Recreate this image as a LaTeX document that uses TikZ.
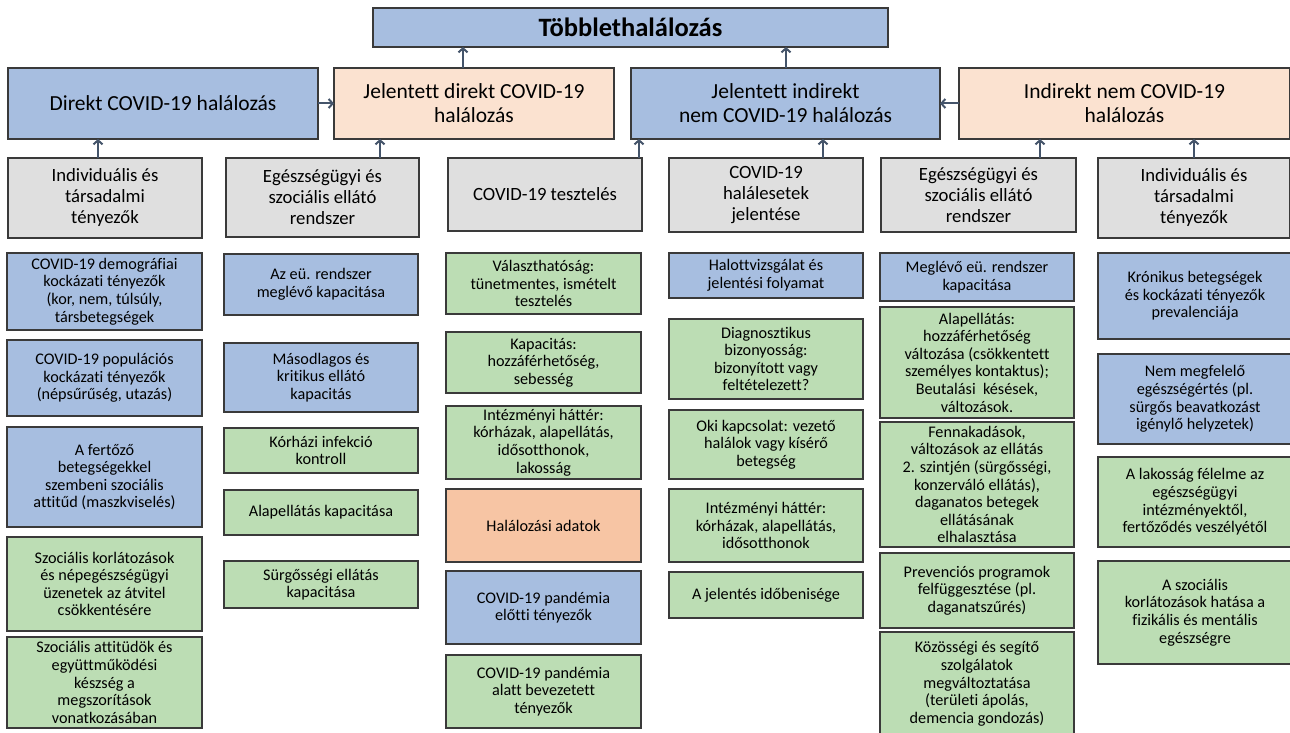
\documentclass[tikz,border=0pt]{standalone}
\usepackage{fontspec}
\setmainfont{Carlito}[Ligatures=NoCommon]
\usetikzlibrary{arrows.meta}
\definecolor{bluef}{HTML}{A7BEE0}
\definecolor{peachf}{HTML}{FBE2D0}
\definecolor{grayf}{HTML}{DFDFDF}
\definecolor{greenf}{HTML}{BCDDB4}
\definecolor{orangef}{HTML}{F7C5A4}
\definecolor{bordc}{HTML}{3A3A3A}
\definecolor{arrc}{HTML}{44546A}
\tikzset{
  box/.style={draw=bordc, line width=1.2pt, inner sep=0pt, outer sep=0pt, align=center, text=black, font=\fontsize{16.2}{17.6}\selectfont},
  bluebox/.style={box, fill=bluef},
  greenbox/.style={box, fill=greenf},
  orangebox/.style={box, fill=orangef},
  graybox/.style={box, fill=grayf, font=\fontsize{18.7}{21}\selectfont},
  headblue/.style={box, fill=bluef, font=\fontsize{21.5}{24}\selectfont},
  headpeach/.style={box, fill=peachf, font=\fontsize{21.5}{24}\selectfont},
  titlebox/.style={box, fill=bluef, font=\bfseries\fontsize{26.5}{30}\selectfont},
  arr/.style={draw=arrc, line width=2pt, -{Straight Barb[length=4pt,width=9pt]}}
}
\newcommand\bx[7]{\node[#6, minimum width={#4-#2}, minimum height={#5-#3}] (#1) at ({(#2+#4)/2},{(#3+#5)/2}) {#7};}
\begin{document}
\begin{tikzpicture}[x=1pt,y=-1pt]
\useasboundingbox (0,0) rectangle (1290,733);
% title
\bx{T}{373}{8}{888}{47}{titlebox}{Többlethalálozás}
% headers
\bx{H1}{8}{68}{318}{139}{headblue}{Direkt COVID-19 halálozás}
\bx{H2}{334}{68}{614}{139}{headpeach}{Jelentett direkt COVID-19\\halálozás}
\bx{H3}{631}{68}{940}{139}{headblue}{Jelentett indirekt\\nem COVID-19 halálozás}
\bx{H4}{959}{68}{1290}{139}{headpeach}{Indirekt nem COVID-19\\halálozás}
% gray row
\bx{G1}{8}{158}{202}{238}{graybox}{Individuális és\\társadalmi\\tényezők}
\bx{G2}{226}{158}{419}{237}{graybox}{Egészségügyi és\\szociális ellátó\\rendszer}
\bx{G3}{448}{158}{642}{231}{graybox}{COVID-19 tesztelés}
\bx{G4}{669}{158}{863}{232}{graybox}{COVID-19\\halálesetek\\jelentése}
\bx{G5}{881}{158}{1076}{232}{graybox}{Egészségügyi és\\szociális ellátó\\rendszer}
\bx{G6}{1098}{158}{1290}{238}{graybox}{Individuális és\\társadalmi\\tényezők}
% column 1
\bx{A1}{7}{253}{202}{330}{bluebox}{COVID-19 demográfiai\\kockázati tényezők\\(kor, nem, túlsúly,\\társbetegségek}
\bx{A2}{7}{340}{202}{416}{bluebox}{COVID-19 populációs\\kockázati tényezők\\(népsűrűség, utazás)}
\bx{A3}{7}{427}{202}{527}{bluebox}{A fertőző\\betegségekkel\\szembeni szociális\\attitűd (maszkviselés)}
\bx{A4}{7}{537}{202}{631}{greenbox}{Szociális korlátozások\\és népegészségügyi\\üzenetek az átvitel\\csökkentésére}
\bx{A5}{7}{637}{202}{728}{greenbox}{Szociális attitüdök és\\együttműködési\\készség a\\megszorítások\\vonatkozásában}
% column 2
\bx{B1}{224}{254}{418}{315}{bluebox}{Az eü. rendszer\\meglévő kapacitása}
\bx{B2}{224}{343}{418}{412}{bluebox}{Másodlagos és\\kritikus ellátó\\kapacitás}
\bx{B3}{224}{428}{418}{473}{greenbox}{Kórházi infekció\\kontroll}
\bx{B4}{224}{490}{418}{535}{greenbox}{Alapellátás kapacitása}
\bx{B5}{224}{561}{418}{608}{greenbox}{Sürgősségi ellátás\\kapacitása}
% column 3
\bx{C1}{446}{253}{641}{314}{greenbox}{Választhatóság:\\tünetmentes, ismételt\\tesztelés}
\bx{C2}{446}{332}{641}{393}{greenbox}{Kapacitás:\\hozzáférhetőség,\\sebesség}
\bx{C3}{446}{406}{641}{479}{greenbox}{Intézményi háttér:\\kórházak, alapellátás,\\idősotthonok,\\lakosság}
\bx{C4}{446}{489}{641}{562}{orangebox}{Halálozási adatok}
\bx{C5}{446}{571}{641}{644}{bluebox}{COVID-19 pandémia\\előtti tényezők}
\bx{C6}{446}{655}{641}{728}{greenbox}{COVID-19 pandémia\\alatt bevezetett\\tényezők}
% column 4
\bx{D1}{669}{253}{863}{298}{bluebox}{Halottvizsgálat és\\jelentési folyamat}
\bx{D2}{669}{319}{863}{399}{greenbox}{Diagnosztikus\\bizonyosság:\\bizonyított vagy\\feltételezett?}
\bx{D3}{669}{410}{863}{479}{greenbox}{Oki kapcsolat: vezető\\halálok vagy kísérő\\betegség}
\bx{D4}{669}{489}{863}{562}{greenbox}{Intézményi háttér:\\kórházak, alapellátás,\\idősotthonok}
\bx{D5}{669}{572}{863}{618}{greenbox}{A jelentés időbenisége}
% column 5
\bx{E1}{880}{253}{1074}{301}{bluebox}{Meglévő eü. rendszer\\kapacitása}
\bx{E2}{880}{307}{1074}{418}{greenbox}{Alapellátás:\\hozzáférhetőség\\változása (csökkentett\\személyes kontaktus);\\Beutalási\ \ késések,\\változások.}
\bx{E3}{880}{422}{1074}{547}{greenbox}{Fennakadások,\\változások az ellátás\\2. szintjén (sürgősségi,\\konzerváló ellátás),\\daganatos betegek\\ellátásának\\elhalasztása}
\bx{E4}{880}{553}{1074}{628}{greenbox}{Prevenciós programok\\felfüggesztése (pl.\\daganatszűrés)}
\bx{E5}{880}{632}{1074}{736}{greenbox}{Közösségi és segítő\\szolgálatok\\megváltoztatása\\(területi ápolás,\\demencia gondozás)}
% column 6
\bx{F1}{1098}{253}{1292}{339}{bluebox}{Krónikus betegségek\\és kockázati tényezők\\prevalenciája}
\bx{F2}{1098}{354}{1292}{444}{bluebox}{Nem megfelelő\\egészségértés (pl.\\sürgős beavatkozást\\igénylő helyzetek)}
\bx{F3}{1098}{457}{1292}{547}{greenbox}{A lakosság félelme az\\egészségügyi\\intézményektől,\\fertőződés veszélyétől}
\bx{F4}{1098}{561}{1292}{664}{greenbox}{A szociális\\korlátozások hatása a\\fizikális és mentális\\egészségre}
% arrows
\draw[arr] (H2.north -| 463,0) -- (T.south -| 463,0);
\draw[arr] (H3.north -| 786,0) -- (T.south -| 786,0);
\draw[arr] (H1.east) -- (H2.west |- H1.east);
\draw[arr] (H4.west) -- (H3.east |- H4.west);
\draw[arr] (G1.north -| 98,0) -- (H1.south -| 98,0);
\draw[arr] (G2.north -| 380,0) -- (H2.south -| 380,0);
\draw[arr] (G3.north -| 639,0) -- (H3.south -| 639,0);
\draw[arr] (G4.north -| 823,0) -- (H3.south -| 823,0);
\draw[arr] (G5.north -| 1040,0) -- (H4.south -| 1040,0);
\draw[arr] (G6.north -| 1194,0) -- (H4.south -| 1194,0);
\end{tikzpicture}
\end{document}
